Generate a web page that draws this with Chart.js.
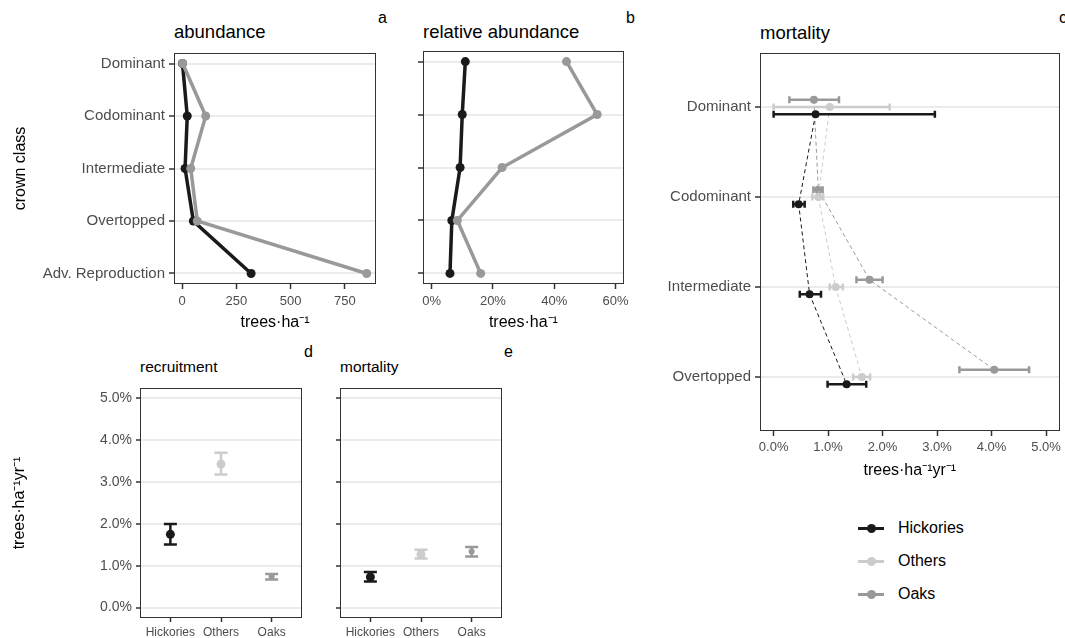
<!DOCTYPE html>
<html>
<head>
<meta charset="utf-8">
<script src="https://cdn.jsdelivr.net/npm/chart.js@4/dist/chart.umd.min.js"></script>
<style>
  body { margin: 0; background: #fff; width: 1065px; height: 638px; overflow: hidden; position: relative;
         font-family: "Liberation Sans", Arial, sans-serif; }
  canvas { position: absolute; }
  .ttl { position: absolute; color: #000; white-space: nowrap; line-height: 1; }
  .big { font-size: 18.5px; }
  .small { font-size: 15.5px; }
  .tag { position: absolute; font-size: 16px; color: #000; line-height: 1; }
  .legend { position: absolute; left: 856px; top: 516px; font-size: 16px; color: #000; }
  .legend div { height: 33px; position: relative; }
  .key { position: absolute; left: 2px; top: 11px; width: 26px; height: 3px; }
  .key i { position: absolute; left: 9px; top: -3px; width: 9px; height: 9px; border-radius: 50%; }
  .legend span { position: absolute; left: 42px; top: 3px; }
</style>
</head>
<body>

<div class="ttl big" style="left:174px; top:23px;">abundance</div>
<div class="tag" style="left:378px; top:10px;">a</div>
<div class="ttl big" style="left:423px; top:23px;">relative abundance</div>
<div class="tag" style="left:626px; top:10px;">b</div>
<div class="ttl big" style="left:760px; top:24px;">mortality</div>
<div class="tag" style="left:1059px; top:10px;">c</div>
<div class="ttl small" style="left:140px; top:359px;">recruitment</div>
<div class="tag" style="left:304px; top:344px;">d</div>
<div class="ttl small" style="left:340px; top:359px;">mortality</div>
<div class="tag" style="left:504px; top:344px;">e</div>

<canvas id="abund" width="386" height="300" style="left:0; top:40px;"></canvas>
<canvas id="relAbund" width="221" height="300" style="left:413px; top:40px;"></canvas>
<canvas id="mortCrown" width="415" height="445" style="left:650px; top:40px;"></canvas>
<canvas id="recruit" width="312" height="263" style="left:0; top:375px;"></canvas>
<canvas id="mortGroup" width="182" height="263" style="left:330px; top:375px;"></canvas>

<div class="legend">
  <div><b class="key" style="background:#1a1a1a"><i style="background:#1a1a1a"></i></b><span>Hickories</span></div>
  <div><b class="key" style="background:#cccccc"><i style="background:#cccccc"></i></b><span>Others</span></div>
  <div><b class="key" style="background:#999999"><i style="background:#999999"></i></b><span>Oaks</span></div>
</div>

<script>
// categories
const crownClasses = ['Dominant', 'Codominant', 'Intermediate', 'Overtopped', 'Adv. Reproduction'];
const mortClasses = ['Dominant', 'Codominant', 'Intermediate', 'Overtopped'];
const groups = ['Hickories', 'Others', 'Oaks'];

// abundance (trees/ha) by crown class
const abundHickories = [2, 24, 14, 52, 318];
const abundOaks = [3, 109, 40, 70, 850];

// relative abundance (%) by crown class
const relHickories = [11, 10, 9.3, 6.6, 6];
const relOaks = [44, 54, 23, 8.4, 16];

// annual mortality (%) by crown class, with lower/upper bounds
const mortHickories = [0.77, 0.46, 0.66, 1.34];
const mortHickoriesLo = [0, 0.36, 0.48, 0.99];
const mortHickoriesHi = [2.96, 0.57, 0.87, 1.70];
const mortOthers = [1.03, 0.82, 1.14, 1.62];
const mortOthersLo = [0, 0.71, 1.03, 1.46];
const mortOthersHi = [2.13, 0.91, 1.27, 1.77];
const mortOaks = [0.74, 0.82, 1.76, 4.05];
const mortOaksLo = [0.29, 0.73, 1.52, 3.41];
const mortOaksHi = [1.20, 0.90, 2.00, 4.69];

// recruitment and mortality (%/yr) by group
const recruitMean = [1.75, 3.43, 0.74];
const recruitLo = [1.51, 3.18, 0.67];
const recruitHi = [2.00, 3.70, 0.80];
const mortMean = [0.73, 1.27, 1.34];
const mortLo = [0.62, 1.17, 1.22];
const mortHi = [0.85, 1.38, 1.45];

// tick labels
const abundTicks = [0, 250, 500, 750];
const relTicks = [0, 20, 40, 60];
const pctTicks = [0, 1, 2, 3, 4, 5];

const colHick = '#1a1a1a', colOther = '#cccccc', colOak = '#999999';
const unitHa = 'trees·ha⁻¹';
const unitHaYr = 'trees·ha⁻¹yr⁻¹';

Chart.defaults.font.family = '"Liberation Sans", Arial, sans-serif';
Chart.defaults.animation = false;
Chart.defaults.events = [];
Chart.defaults.plugins.legend.display = false;
Chart.defaults.plugins.tooltip.enabled = false;
Chart.defaults.responsive = false;
Chart.defaults.maintainAspectRatio = false;

// dark frame round the plotting area
const panelBorder = {
  id: 'panelBorder',
  afterDraw(chart) {
    const { ctx, chartArea: a } = chart;
    ctx.save();
    ctx.strokeStyle = '#333333';
    ctx.lineWidth = 1;
    ctx.strokeRect(Math.round(a.left) + 0.5, Math.round(a.top) + 0.5,
                   Math.round(a.width) - 1, Math.round(a.height) - 1);
    ctx.restore();
  }
};

// whiskers with end caps, read from errLo / errHi on each dataset
const errorBars = {
  id: 'errorBars',
  afterDatasetsDraw(chart) {
    const ctx = chart.ctx;
    chart.data.datasets.forEach((ds, di) => {
      if (!ds.errLo) return;
      const meta = chart.getDatasetMeta(di);
      const horiz = ds.errAxis === 'x';
      const scale = horiz ? chart.scales.x : chart.scales.y;
      const cap = ds.errCap;
      ctx.save();
      ctx.lineWidth = ds.errWidth;
      ctx.lineCap = 'butt';
      meta.data.forEach((pt, i) => {
        const a = scale.getPixelForValue(ds.errLo[i]);
        const b = scale.getPixelForValue(ds.errHi[i]);
        ctx.strokeStyle = Array.isArray(ds.errColor) ? ds.errColor[i] : ds.errColor;
        ctx.beginPath();
        if (horiz) {
          ctx.moveTo(a, pt.y); ctx.lineTo(b, pt.y);
          ctx.moveTo(a, pt.y - cap); ctx.lineTo(a, pt.y + cap);
          ctx.moveTo(b, pt.y - cap); ctx.lineTo(b, pt.y + cap);
        } else {
          ctx.moveTo(pt.x, a); ctx.lineTo(pt.x, b);
          ctx.moveTo(pt.x - cap, a); ctx.lineTo(pt.x + cap, a);
          ctx.moveTo(pt.x - cap, b); ctx.lineTo(pt.x + cap, b);
        }
        ctx.stroke();
      });
      ctx.restore();
    });
  }
};

function fixedTicks(values) {
  return scale => { scale.ticks = values.map(v => ({ value: v })); };
}

function yCats(labels, min, max, width, show, title) {
  return {
    type: 'linear', reverse: true, min: min, max: max,
    afterBuildTicks: fixedTicks(labels.map((_, i) => i)),
    afterFit: s => { s.width = width; },
    grid: { color: '#ebebeb', lineWidth: 2, tickColor: '#333333', tickWidth: 1.5, tickLength: 5 },
    border: { display: false },
    ticks: { display: show, color: '#4d4d4d', font: { size: 15 }, padding: 4, callback: v => labels[v] },
    title: title ? { display: true, text: title, color: '#000', font: { size: 16 }, padding: { top: 11 } } : { display: false }
  };
}

function xNum(min, max, ticks, fmt, height, title, pad, titlePad) {
  return {
    type: 'linear', min: min, max: max,
    afterBuildTicks: fixedTicks(ticks),
    afterFit: s => { s.height = height; },
    grid: { drawOnChartArea: false, tickColor: '#333333', tickWidth: 1.5, tickLength: 5 },
    border: { display: false },
    ticks: { color: '#4d4d4d', font: { size: 13 }, padding: pad, callback: fmt },
    title: { display: true, text: title, color: '#000', font: { size: 16 }, padding: { bottom: titlePad } }
  };
}

function pts(values, offset) {
  return values.map((v, i) => ({ x: v, y: i + offset }));
}

// a: abundance
new Chart(document.getElementById('abund'), {
  type: 'line',
  data: {
    datasets: [
      { data: pts(abundOaks, 0), borderColor: colOak, backgroundColor: colOak, order: 0,
        borderWidth: 3.5, pointRadius: 4.5, pointBorderWidth: 0, tension: 0 },
      { data: pts(abundHickories, 0), borderColor: colHick, backgroundColor: colHick, order: 1,
        borderWidth: 3.5, pointRadius: 4.5, pointBorderWidth: 0, tension: 0 }
    ]
  },
  options: {
    layout: { padding: { top: 11, right: 10 } },
    scales: {
      x: xNum(-37, 893, abundTicks, v => v, 56, unitHa, 5, 8),
      y: yCats(crownClasses, -0.2, 4.2, 174, true, 'crown class')
    }
  },
  plugins: [panelBorder]
});

// b: relative abundance
new Chart(document.getElementById('relAbund'), {
  type: 'line',
  data: {
    datasets: [
      { data: pts(relOaks, 0), borderColor: colOak, backgroundColor: colOak, order: 0,
        borderWidth: 3.5, pointRadius: 4.5, pointBorderWidth: 0, tension: 0 },
      { data: pts(relHickories, 0), borderColor: colHick, backgroundColor: colHick, order: 1,
        borderWidth: 3.5, pointRadius: 4.5, pointBorderWidth: 0, tension: 0 }
    ]
  },
  options: {
    layout: { padding: { top: 11, right: 10 } },
    scales: {
      x: xNum(-2.8, 62.7, relTicks, v => v + '%', 56, unitHa, 5, 8),
      y: yCats(crownClasses, -0.2, 4.2, 10, false, null)
    }
  },
  plugins: [panelBorder]
});

// c: mortality by crown class, groups dodged vertically
const dodge = 0.08;
function mortSeries(mean, lo, hi, col, off) {
  return {
    data: pts(mean, off), borderColor: col, backgroundColor: col,
    borderWidth: 1, borderDash: [4, 3], pointRadius: 4, pointBorderWidth: 0, tension: 0,
    errLo: lo, errHi: hi, errAxis: 'x', errCap: 3.5, errWidth: 2.5, errColor: col
  };
}
new Chart(document.getElementById('mortCrown'), {
  type: 'line',
  data: {
    datasets: [
      mortSeries(mortHickories, mortHickoriesLo, mortHickoriesHi, colHick, dodge),
      mortSeries(mortOthers, mortOthersLo, mortOthersHi, colOther, 0),
      mortSeries(mortOaks, mortOaksLo, mortOaksHi, colOak, -dodge)
    ]
  },
  options: {
    layout: { padding: { top: 12, right: 4 } },
    scales: {
      x: xNum(-0.25, 5.25, pctTicks, v => v.toFixed(1) + '%', 54, unitHaYr, 4, 5),
      y: yCats(mortClasses, -0.6, 3.6, 110, true, null)
    }
  },
  plugins: [panelBorder, errorBars]
});

// d, e: recruitment and mortality by group
function groupChart(id, mean, lo, hi, yWidth, showLabels) {
  const cols = [colHick, colOther, colOak];
  return new Chart(document.getElementById(id), {
    type: 'line',
    data: {
      datasets: [{
        data: mean.map((v, i) => ({ x: i, y: v })), showLine: false,
        pointRadius: [4.5, 4.5, 3], pointBorderWidth: 0, pointBackgroundColor: cols,
        errLo: lo, errHi: hi, errAxis: 'y', errCap: 6.5, errWidth: 2.5, errColor: cols
      }]
    },
    options: {
      layout: { padding: { top: 13, right: 10 } },
      scales: {
        x: {
          type: 'linear', min: -0.6, max: 2.6,
          afterBuildTicks: fixedTicks([0, 1, 2]),
          afterFit: s => { s.height = 20; },
          grid: { drawOnChartArea: false, tickColor: '#333333', tickWidth: 1.5, tickLength: 4 },
          border: { display: false },
          ticks: { color: '#4d4d4d', font: { size: 12 }, padding: 3, callback: v => groups[v] }
        },
        y: {
          type: 'linear', min: -0.25, max: 5.25,
          afterBuildTicks: fixedTicks(pctTicks),
          afterFit: s => { s.width = yWidth; },
          grid: { color: '#ebebeb', lineWidth: 2, tickColor: '#333333', tickWidth: 1.5, tickLength: 4 },
          border: { display: false },
          ticks: { display: showLabels, color: '#4d4d4d', font: { size: 14 }, padding: 4,
                   callback: v => v.toFixed(1) + '%' },
          title: showLabels ? { display: true, text: unitHaYr, color: '#000', font: { size: 16 }, padding: { top: 10 } }
                            : { display: false }
        }
      }
    },
    plugins: [panelBorder, errorBars]
  });
}
groupChart('recruit', recruitMean, recruitLo, recruitHi, 140, true);
groupChart('mortGroup', mortMean, mortLo, mortHi, 10, false);
</script>
</body>
</html>
